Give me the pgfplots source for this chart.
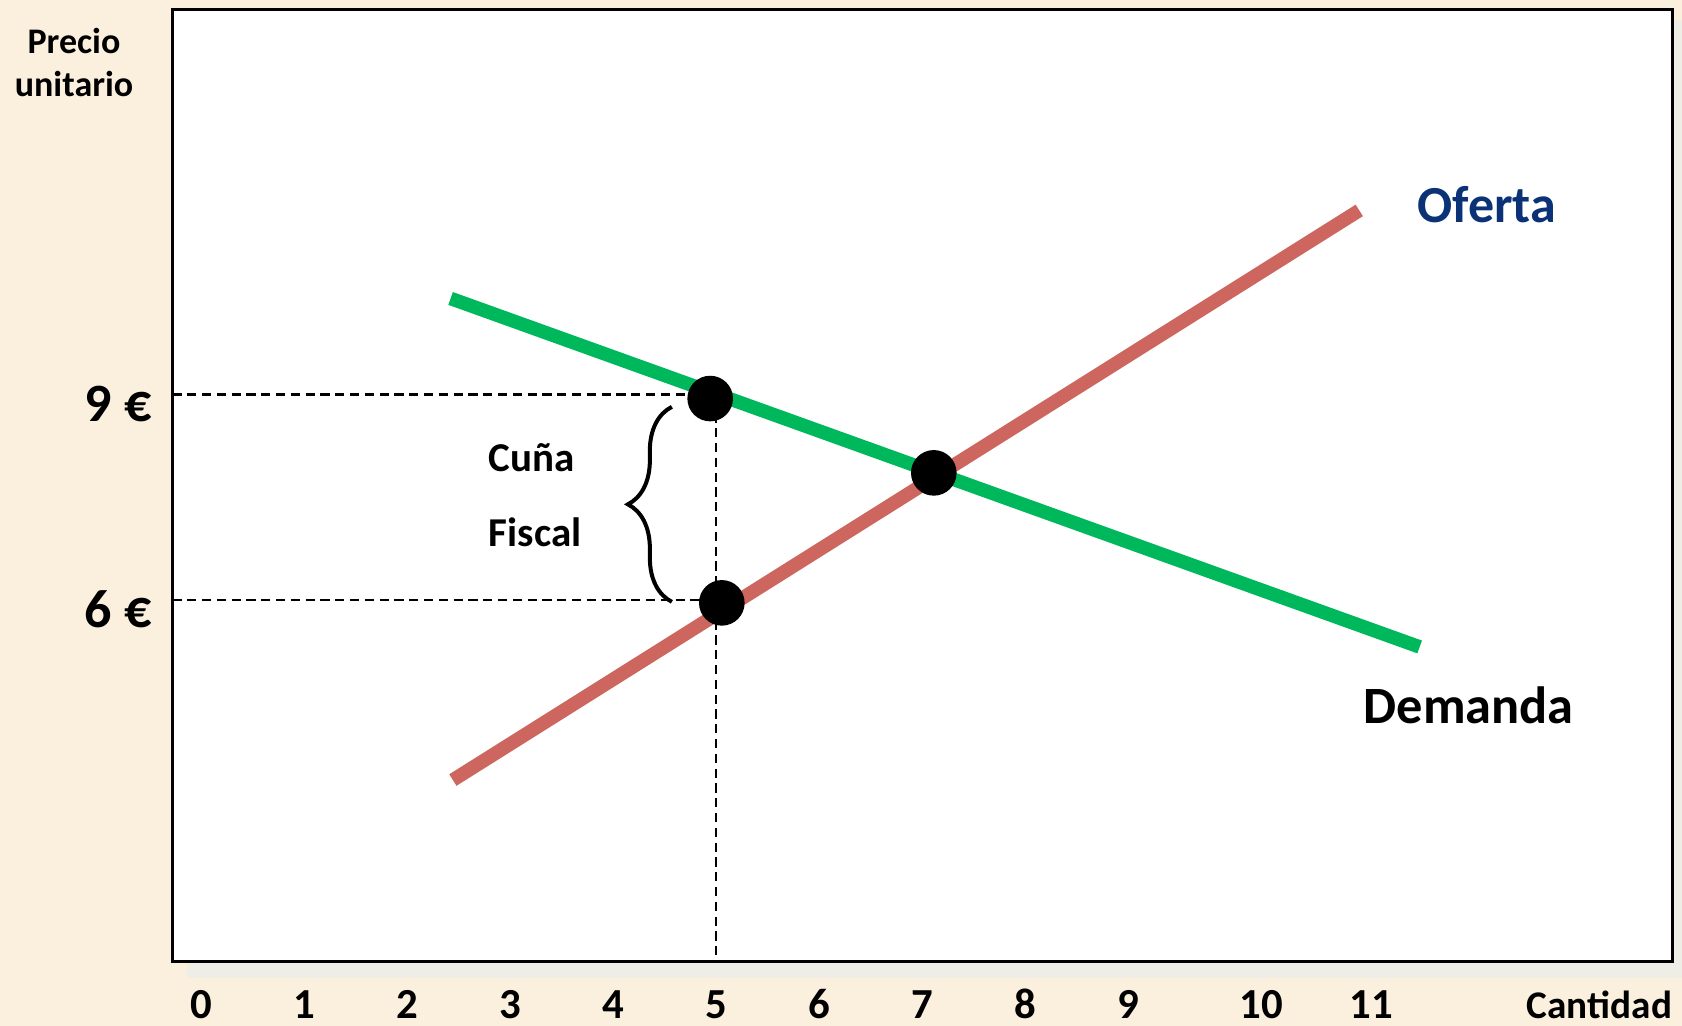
\documentclass[border=0pt]{standalone}
\usepackage{fontspec}
\setmainfont{Carlito}
\usepackage{pgfplots}
\pgfplotsset{compat=1.18}
\usetikzlibrary{decorations.pathreplacing}
\definecolor{bg}{HTML}{FBF0DD}
\definecolor{shadowc}{HTML}{EEEDE6}
\definecolor{demgreen}{HTML}{00B85C}
\definecolor{ofred}{HTML}{CD665E}
\definecolor{ofblue}{HTML}{0B3277}
\begin{document}
\begin{tikzpicture}
\fill[bg] (0,0) rectangle (420.5pt,256.5pt);
\path[use as bounding box] (0,0) rectangle (420.5pt,256.5pt);
\fill[shadowc] (46.75pt,12pt) rectangle (420.5pt,251.5pt);
\begin{axis}[
  at={(43.1pt,16.1pt)}, anchor=south west,
  scale only axis, width=375.1pt, height=238.1pt,
  xmin=-0.279, xmax=14.288, ymin=0.728, ymax=14.619,
  axis background/.style={fill=white},
  axis line style={line width=0.7pt},
  xtick={0,1,2,3,4,5,6,7,8,9,10.29,11.36},
  xticklabels={0,1,2,3,4,5,6,7,8,9,10,11},
  ytick={6,9}, yticklabels={6 €,9 €},
  major tick length=0pt,
  xticklabel style={anchor=base, yshift=-14.2pt, inner sep=0pt, font=\fontsize{10.7}{12}\selectfont\bfseries},
  yticklabel style={anchor=base east, yshift=-6.85pt, xshift=-5pt, inner sep=0pt, font=\fontsize{13.5}{15}\selectfont\bfseries},
  clip=false,
]
\addplot[black, line width=0.55pt, dash pattern=on 2.3pt off 1.4pt] coordinates {(-0.279,9) (4.94,9)};
\addplot[black, line width=0.55pt, dash pattern=on 2.3pt off 1.4pt] coordinates {(-0.279,6) (5.05,6)};
\addplot[black, line width=0.55pt, dash pattern=on 2.3pt off 1.4pt] coordinates {(4.995,8.94) (4.995,0.728)};
\addplot[demgreen, line width=3.4pt] coordinates {(2.422,10.40) (11.83,5.317)};
\addplot[ofred, line width=3.4pt] coordinates {(2.444,3.376) (11.244,11.684)};
\addplot[only marks, mark=*, mark size=5.5pt, black] coordinates {(4.942,8.94) (5.055,5.96) (7.113,7.856)};
\draw[decorate, decoration={brace, amplitude=11pt}, line width=1pt] (axis cs:4.57,5.975) -- (axis cs:4.57,8.819);
\node[anchor=base west, inner sep=0pt, font=\fontsize{10.25}{12}\selectfont\bfseries] at (axis cs:2.786,7.871) {Cuña};
\node[anchor=base west, inner sep=0pt, font=\fontsize{10.25}{12}\selectfont\bfseries] at (axis cs:2.786,6.777) {Fiscal};
\node[anchor=base west, inner sep=0pt, text=ofblue, font=\fontsize{13}{15}\selectfont\bfseries] at (axis cs:11.80,11.51) {Oferta};
\node[anchor=base west, inner sep=0pt, font=\fontsize{13.1}{15}\selectfont\bfseries] at (axis cs:11.28,4.206) {Demanda};
\node[anchor=base east, inner sep=0pt, yshift=-14.2pt, font=\fontsize{9.8}{12}\selectfont\bfseries] at (rel axis cs:1,0) {Cantidad};
\end{axis}
\node[anchor=base, inner sep=0pt, font=\fontsize{9}{11}\selectfont\bfseries] at (18.5pt,243.2pt) {Precio};
\node[anchor=base, inner sep=0pt, font=\fontsize{9}{11}\selectfont\bfseries] at (18.5pt,232.3pt) {unitario};
\end{tikzpicture}
\end{document}
